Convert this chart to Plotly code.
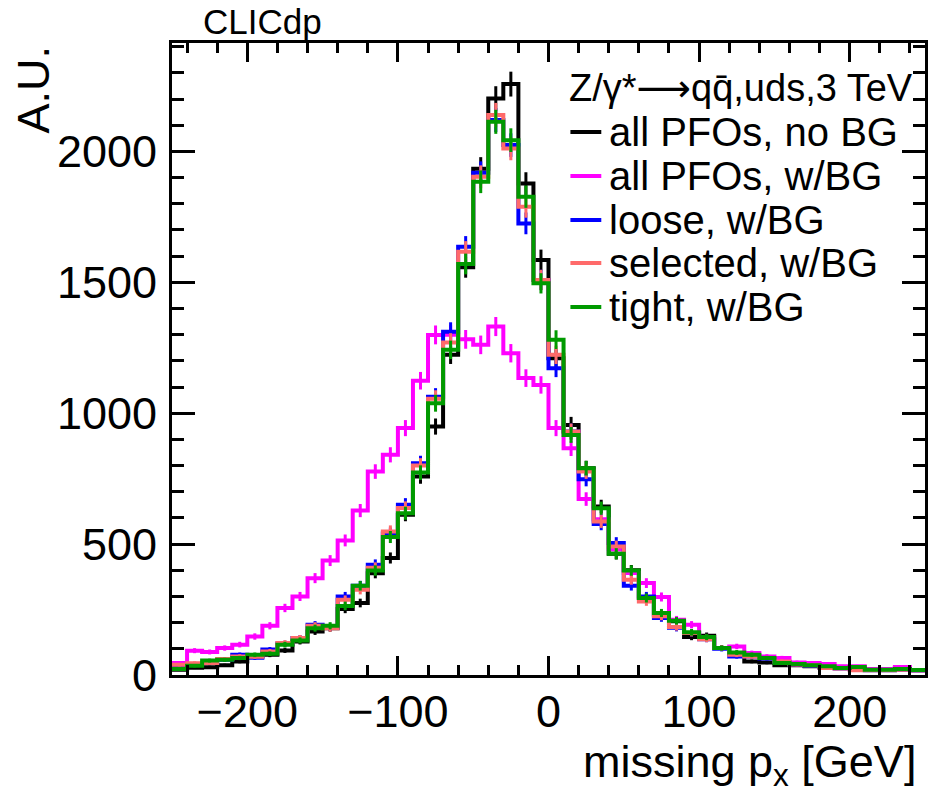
import numpy as np
import plotly.graph_objects as go

# ---- data (10 GeV bins from -250 to 250 GeV) ----
bin_lo = -250
bin_hi = 250
bin_w = 10

all_pfos_no_bg = [20, 28, 30, 37, 52, 71, 77, 94, 128, 166,
                  179, 252, 275, 389, 447, 612, 758, 949, 1223, 1557,
                  1934, 2202, 2257, 1877, 1585, 1210, 955, 790, 644, 463,
                  400, 294, 230, 205, 145, 150, 103, 81, 52, 48,
                  37, 37, 33, 30, 27, 27, 20, 20, 25, 18]
all_pfos_bg = [46, 93, 88, 103, 116, 147, 188, 256, 300, 370,
               437, 514, 628, 777, 841, 943, 1124, 1299, 1300, 1282,
               1261, 1331, 1229, 1134, 1108, 943, 866, 672, 595, 480,
               390, 351, 298, 211, 192, 145, 103, 109, 84, 71,
               65, 48, 46, 42, 33, 33, 23, 23, 31, 18]
loose_bg = [37, 42, 46, 58, 77, 66, 97, 120, 141, 192,
            182, 300, 341, 421, 540, 650, 809, 1063, 1311, 1636,
            1918, 2120, 2024, 1725, 1509, 1172, 930, 748, 577, 504,
            341, 300, 218, 180, 160, 137, 100, 71, 71, 63,
            50, 40, 35, 27, 25, 22, 18, 18, 20, 18]
selected_bg = [39, 45, 46, 61, 71, 70, 90, 122, 141, 188,
               179, 287, 326, 410, 548, 638, 800, 1055, 1270, 1617,
               1903, 2139, 2011, 1789, 1509, 1223, 930, 777, 586, 491,
               364, 281, 224, 183, 160, 137, 103, 77, 71, 65,
               52, 40, 37, 27, 25, 18, 18, 18, 20, 18]
tight_bg = [23, 35, 55, 58, 65, 77, 81, 116, 132, 179,
            188, 264, 341, 399, 527, 618, 773, 1038, 1242, 1570,
            1884, 2113, 2043, 1827, 1496, 1281, 917, 790, 637, 463,
            399, 294, 237, 207, 163, 145, 103, 86, 77, 65,
            46, 42, 37, 33, 27, 31, 20, 20, 23, 19]

series_names = ["all PFOs, no BG", "all PFOs, w/BG", "loose, w/BG",
                "selected, w/BG", "tight, w/BG"]
series_values = [all_pfos_no_bg, all_pfos_bg, loose_bg, selected_bg, tight_bg]
series_colors = ["#000000", "#ff00ff", "#0000ff", "#ff6a6a", "#009a00"]

legend_title = "Z/γ*⟶qq\u0304,uds,3 TeV"
x_ticks = [-200, -100, 0, 100, 200]
y_ticks = [0, 500, 1000, 1500, 2000]

edges = np.arange(bin_lo, bin_hi + bin_w, bin_w)
centers = edges[:-1] + bin_w / 2.0

FONT = "Liberation Sans, Arial, Helvetica, DejaVu Sans, sans-serif"

# plot area in pixels
W, H = 930, 799
L, R, T, B = 172, 2, 43, 124
pw = W - L - R
ph = H - T - B


def px(xp):
    return (xp - L) / pw


def py(yp):
    return (H - B - yp) / ph


fig = go.Figure()
for name, vals, col in zip(series_names, series_values, series_colors):
    v = np.array(vals, dtype=float)
    fig.add_trace(go.Scatter(
        x=edges, y=np.append(v, v[-1]), mode="lines",
        line=dict(shape="hv", color=col, width=4),
        name=name, showlegend=False, hoverinfo="skip"))
    fig.add_trace(go.Scatter(
        x=centers, y=v, mode="markers",
        marker=dict(size=1, color=col),
        error_y=dict(type="data", array=np.sqrt(v), color=col,
                     thickness=3, width=0),
        name=name + " errors", showlegend=False, hoverinfo="skip"))

axis_common = dict(
    showline=True, linecolor="black", linewidth=3, mirror="ticks",
    ticks="inside", tickcolor="black", tickwidth=3,
    showgrid=False, zeroline=False,
    tickfont=dict(family=FONT, size=45, color="black"),
)

fig.update_xaxes(
    range=[bin_lo, bin_hi], tickvals=x_ticks, ticklen=19,
    minor=dict(dtick=20, ticklen=10, tickwidth=3, tickcolor="black", ticks="inside"),
    ticklabelstandoff=-5,
    **axis_common)
fig.update_yaxes(
    range=[0, 2414], tickvals=y_ticks, ticklen=23,
    minor=dict(dtick=100, ticklen=12, tickwidth=3, tickcolor="black", ticks="inside"),
    ticklabelstandoff=3,
    **axis_common)

annotations = [
    dict(text="CLICdp", x=px(201), y=py(21), xref="paper", yref="paper",
         xanchor="left", yanchor="middle", showarrow=False,
         font=dict(family=FONT, size=35, color="black")),
    dict(text="A.U.", x=px(32), y=py(44), xref="paper", yref="paper",
         xanchor="center", yanchor="top", textangle=-90, showarrow=False,
         font=dict(family=FONT, size=45, color="black")),
    dict(text="missing p<sub>x</sub> [GeV]", x=px(921), y=py(764),
         xref="paper", yref="paper", xanchor="right", yanchor="middle",
         showarrow=False, font=dict(family=FONT, size=45, color="black")),
    dict(text=legend_title, x=px(569), y=py(88), xref="paper", yref="paper",
         xanchor="left", yanchor="middle", showarrow=False,
         font=dict(family=FONT, size=38, color="black")),
]
shapes = []
row_y = [132, 176, 220, 263, 307]
for name, col, ry in zip(series_names, series_colors, row_y):
    annotations.append(dict(
        text=name, x=px(609), y=py(ry), xref="paper", yref="paper",
        xanchor="left", yanchor="middle", showarrow=False,
        font=dict(family=FONT, size=40, color="black")))
    shapes.append(dict(
        type="line", xref="paper", yref="paper",
        x0=px(572), x1=px(603), y0=py(ry), y1=py(ry),
        line=dict(color=col, width=4)))

fig.update_layout(
    width=W, height=H,
    margin=dict(l=L, r=R, t=T, b=B, pad=0),
    paper_bgcolor="white", plot_bgcolor="white",
    annotations=annotations, shapes=shapes,
    showlegend=False,
)

fig.write_html(
    "out.html",
    config={"displayModeBar": False},
    post_script="document.body.style.margin='0';document.body.style.overflow='hidden';",
)
